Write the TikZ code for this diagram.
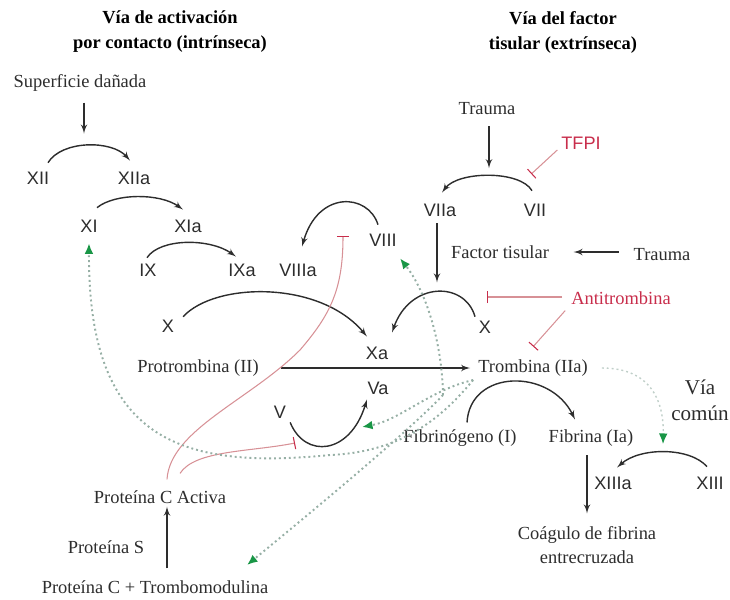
\documentclass[tikz,border=0pt]{standalone}
\usepackage{fontspec}
\setmainfont{Liberation Serif}
\newfontfamily\facfont{Liberation Sans}
\usetikzlibrary{arrows,arrows.meta,calc}

\definecolor{ink}{RGB}{45,45,45}
\definecolor{inhred}{RGB}{200,45,75}
\definecolor{inhline}{RGB}{215,145,150}
\definecolor{dotgray}{RGB}{150,175,165}
\definecolor{tipgreen}{RGB}{25,150,70}

\begin{document}
\begin{tikzpicture}[x=0.02cm,y=-0.02cm]
\tikzset{lbl/.style = {inner sep=1pt, text=ink, font=\fontsize{10.5}{14}\selectfont}}
\tikzset{fac/.style = {inner sep=1pt, text=ink, font=\facfont\fontsize{10.3}{12}\selectfont}}
\tikzset{ttl/.style = {inner sep=1pt, text=black, align=center, font=\bfseries\fontsize{10.5}{14.2}\selectfont}}
\tikzset{act/.style = {->, >=latex', line width=0.8pt, draw=ink}}
\tikzset{inh/.style = {-{Bar[width=7pt,color=inhred]}, line width=0.6pt, draw=inhline}}
\tikzset{fb/.style = {dash pattern=on 1.1pt off 1.7pt, line width=1.1pt, draw=dotgray, -{Latex[length=6pt,width=5pt,color=tipgreen]}}}
\useasboundingbox (0,0) rectangle (730,599);

\node[ttl] (ttlint) at (170,32) {Vía de activación\\por contacto (intrínseca)};
\node[ttl] (ttlext) at (563,32) {Vía del factor\\tisular (extrínseca)};

% intrinsic pathway
\node[lbl] (sup) at (80,83) {Superficie dañada};
\node[fac] (xii) at (38,178) {XII};
\node[fac] (xiia) at (134,178) {XIIa};
\node[fac] (xi) at (89,226) {XI};
\node[fac] (xia) at (188,226) {XIa};
\node[fac] (ix) at (148,270) {IX};
\node[fac] (ixa) at (242,270) {IXa};
\node[fac] (viiia) at (298,270) {VIIIa};
\node[fac] (viii) at (383,240) {VIII};

% extrinsic pathway
\node[lbl] (traumaA) at (487,109) {Trauma};
\node[fac, text=inhred] (tfpi) at (581,143) {TFPI};
\node[fac] (viia) at (440,210) {VIIa};
\node[fac] (vii) at (535,210) {VII};
\node[lbl] (ftis) at (500,252) {Factor tisular};
\node[lbl] (traumaB) at (662,255) {Trauma};
\node[lbl, text=inhred] (antit) at (621,298) {Antitrombina};

% common pathway
\node[fac] (xl) at (168,326) {X};
\node[fac] (xr) at (485,327) {X};
\node[fac] (xa) at (377,353) {Xa};
\node[lbl] (protr) at (198,368) {Protrombina (II)};
\node[lbl] (tromb) at (533,368) {Trombina (IIa)};
\node[fac] (va) at (378,388) {Va};
\node[fac] (v) at (280,412) {V};
\node[lbl] (fibgen) at (460,438) {Fibrinógeno (I)};
\node[lbl] (fib) at (591,438) {Fibrina (Ia)};
\node[lbl, align=center, font=\fontsize{12}{15}\selectfont] (comun) at (700,400) {Vía\\común};
\node[fac] (xiiia) at (613,483) {XIIIa};
\node[fac] (xiii) at (710,483) {XIII};
\node[lbl, align=center, font=\fontsize{10.5}{13.6}\selectfont] (coag) at (587,545) {Coágulo de fibrina\\entrecruzada};

% protein C
\node[lbl] (pca) at (160,497) {Proteína C Activa};
\node[lbl] (ps) at (106,547) {Proteína S};
\node[lbl] (pct) at (155,587) {Proteína C + Trombomodulina};

%activations
\draw[act] (sup.south) ++(4,9) -- ++(0,31);
\draw[act] ($(xii.north)+(10,-7)$) .. controls (62,140) and (112,140) .. ($(xiia.north)+(-4,-9)$);
\draw[act] ($(xi.north)+(8,-10)$) .. controls (115,193) and (160,193) .. ($(xia.north)+(-5,-8)$);
\draw[act] ($(ix.north)+(-1,-4)$) .. controls (160,238) and (210,238) .. ($(ixa.north)+(-6,-5)$);
\draw[act] ($(viii.north)+(-5,-7)$) .. controls (368,193) and (318,190) .. ($(viiia.north)+(4,-15)$);
\draw[act] (traumaA.south) ++(2,9) -- ++(0,42);
\draw[act] ($(vii.north)+(-3,-11)$) .. controls (520,170) and (458,171) .. ($(viia.north)+(2,-9)$);
\draw[act] (viia.south) ++(-3,5) -- ++(0,59);
\draw[act] (traumaB.west) ++(-13,-3) -- ++(-45,0);
\draw[act] ($(xl.north east)+(7,-1)$) .. controls (215,282) and (320,280) .. ($(xa.north)+(-10,-8)$);
\draw[act] ($(xr.north)+(-10,-2)$) .. controls (465,281) and (410,281) .. ($(xa.north)+(15,-12)$);
\draw[act] (protr.east) ++(20,0) -- ($(tromb.west)+(-6,0)$);
\draw[act] ($(v.south east)+(2,2)$) .. controls (305,459) and (350,455) .. ($(va.south)+(-11,3)$);
\draw[act] ($(fibgen.north)+(7,-5)$) .. controls (470,369) and (550,368) .. ($(fib.north)+(-16,-8)$);
\draw[act] (fib.south) ++(-4,7) -- ++(0,58);
\draw[act] ($(xiii.north)+(-3,-8)$) .. controls (690,447) and (640,447) .. ($(xiiia.north)+(4,-7)$);
\draw[act] (pct.north) ++(12,-10) -- ($(pca.south)+(7,1)$);

%inhibitions
\draw[inh] (tfpi.west) ++(-2,7) -- ++(-26,24);
\draw[inh] (antit.west) ++(-7,-1) -- ++(-75,0);
\draw[inh] (antit.south west) ++(-4,4) -- ++(-32,36);
\draw[inh] ($(pca.north)+(7,-9)$) .. controls (170,430) and (250,400) .. (300,350) .. controls (330,315) and (343,290) .. (343,236);
\draw[inh] ($(pca.north)+(20,-15)$) .. controls (195,450) and (250,452) .. (295,443);

%thrombin feedback
\coordinate (tfa) at ($(tromb.west)+(-3,12)$);
\coordinate (tfb) at (443,395);
\draw[fb] (tfa) .. controls (440,420) and (400,452) .. (330,455) .. controls (180,470) and (88,440) .. ($(xi.south)+(0,9)$);
\draw[fb] (tfa) .. controls (430,390) and (400,420) .. (362,427);
\draw[fb] (tfb) .. controls (442,340) and (425,290) .. ($(viii.south)+(17,10)$);
\draw[fb] (tfb) .. controls (410,430) and (320,505) .. (247,565);
\draw[fb, draw=dotgray!60, line width=0.8pt] ($(tromb.east)+(12,0)$) .. controls (650,368) and (664,400) .. (663,444);
\end{tikzpicture}
\end{document}
